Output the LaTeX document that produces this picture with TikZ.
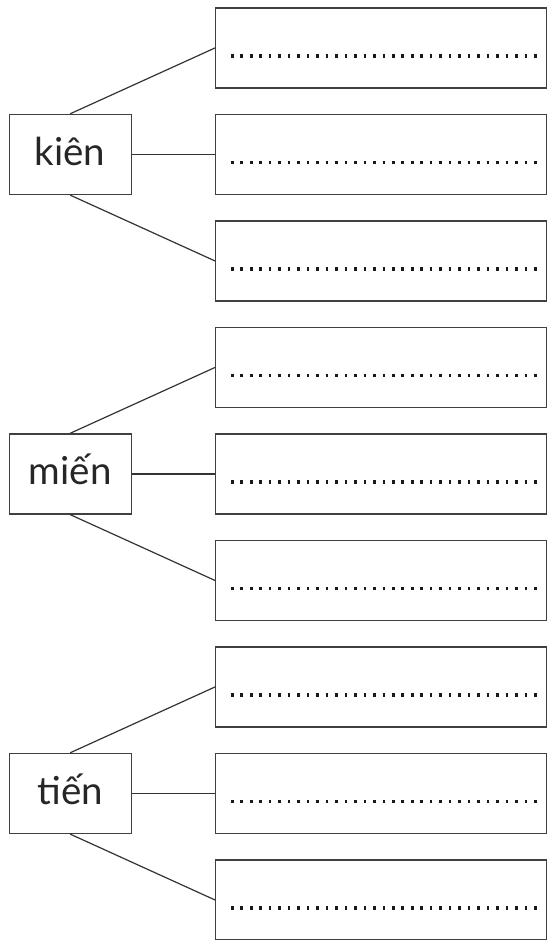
\documentclass[tikz,border=0pt]{standalone}
\usepackage{fontspec}
\setmainfont{Lato}
\begin{document}
\begin{tikzpicture}[x=1pt,y=-1pt,
  box/.style={draw=black!75, line width=1.3pt, rectangle, inner sep=0pt, anchor=north west,
    minimum width=331pt, minimum height=80pt},
  word/.style={draw=black!75, line width=1.3pt, rectangle, inner sep=0pt, anchor=north west,
    minimum width=122pt, minimum height=80pt, text height=22pt, text depth=0pt,
    font=\fontsize{38.5}{38.5}\selectfont, text=black!85},
  link/.style={draw=black!80, line width=1.2pt},
  dotrow/.style={draw=black!90, line width=3.2pt, dash pattern=on 2.6pt off 6.87pt}
]
\useasboundingbox (0,0) rectangle (547,940);
% answer boxes
\node[box] (a1) at (215,7.3) {};
\node[box] (a2) at (215,113.8) {};
\node[box] (a3) at (215,220.3) {};
\node[box] (b1) at (215,326.8) {};
\node[box] (b2) at (215,433.3) {};
\node[box] (b3) at (215,539.8) {};
\node[box] (c1) at (215,646.3) {};
\node[box] (c2) at (215,752.8) {};
\node[box] (c3) at (215,859.3) {};
% word boxes
\node[word] (wa) at (8.5,113.8) {kiên};
\node[word] (wb) at (8.5,433.3) {miến};
\node[word] (wc) at (8.5,752.8) {tiến};
% connectors
\foreach \w/\n in {wa/a,wb/b,wc/c}{
  \draw[link] (\w.north) -- (\n1.west);
  \draw[link] (\w.east) -- (\n2.west);
  \draw[link] (\w.south) -- (\n3.west);
}
% dotted answer lines
\foreach \n in {a1,a2,a3,b1,b2,b3,c1,c2,c3}{
  \draw[dotrow] ([xshift=16pt,yshift=-8pt]\n.west) -- ++(305.5,0);
}
\end{tikzpicture}
\end{document}
